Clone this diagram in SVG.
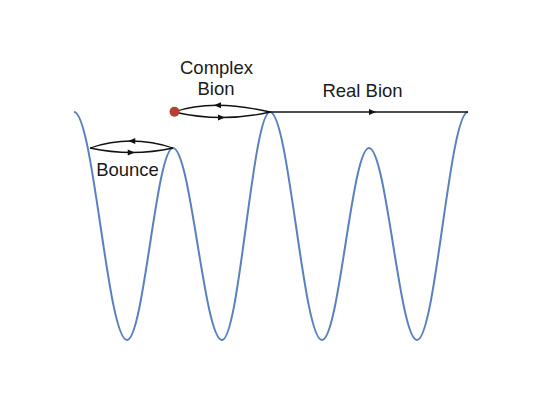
<svg xmlns="http://www.w3.org/2000/svg" width="545" height="409" viewBox="0 0 545 409">
<style>
.curve{fill:none;stroke:#5b80c0;stroke-width:2}
.path{fill:none;stroke:#111;stroke-width:1.3;marker-mid:url(#arr)}
.lbl{font-family:"Liberation Sans",Arial,sans-serif;font-size:18.5px;fill:#1a1a1a;text-anchor:middle}
</style>
<defs>
<marker id="arr" markerUnits="userSpaceOnUse" markerWidth="8" markerHeight="6" refX="4" refY="3" orient="auto" overflow="visible">
<path d="M0,0 L7,3 L0,6 z" fill="#111"/>
</marker>
</defs>
<rect width="545" height="409" fill="#fff"/>
<g id="potential">
<path class="curve" d="M74,112 C93.3,112 107.7,340 127,340 C143.7,340 156.3,148 173,148 C190.8,148 204.2,340 222,340 C239.4,340 252.6,112 270,112 C288.9,112 303.1,340 322,340 C339.1,340 351.9,148 369,148 C386.4,148 399.6,340 417,340 C435.5,340 449.5,112 468,112"/>
</g>
<g id="connectors">
<path class="path" d="M173,148 Q152,141 131.25,141 Q110.5,141 90,148"/>
<path class="path" d="M90,148 Q111,152.5 131.75,152.5 Q152.5,152.5 173,148"/>
<path class="path" d="M270,112 Q241,105.25 217,105.25 Q193,105.25 174,112"/>
<path class="path" d="M174,112 Q198,117.5 222,117.5 Q246,117.5 270,112"/>
<path class="path" d="M270,112 L373,112 L468,112"/>
</g>
<g id="start-point">
<circle cx="174.5" cy="111.7" r="5" fill="#b5402f"/>
</g>
<g id="label-complex">
<text class="lbl" x="216.5" y="74">Complex</text>
<text class="lbl" x="216" y="95">Bion</text>
</g>
<g id="label-real">
<text class="lbl" x="362.5" y="97">Real Bion</text>
</g>
<g id="label-bounce">
<text class="lbl" x="127.5" y="176">Bounce</text>
</g>
</svg>
